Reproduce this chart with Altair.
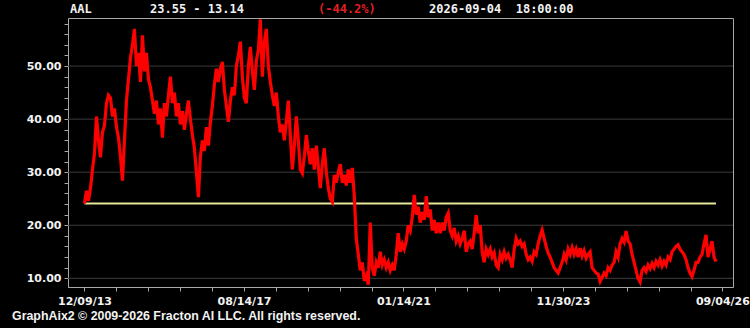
import altair as alt
import pandas as pd

# ---- data ----
prices = [
    24.1, 26.5, 24.6, 27.0, 30.5, 33.5, 40.5, 36.0, 32.8, 37.5,
    38.8, 43.0, 44.5, 44.0, 40.5, 42.0, 38.5, 36.5, 33.0, 28.4,
    36.0, 43.5, 47.5, 51.5, 54.0, 57.0, 50.0, 52.5, 47.0, 55.8,
    49.0, 52.5, 47.5, 46.0, 43.5, 41.0, 43.5, 39.0, 42.0, 36.5,
    43.0, 40.5, 44.5, 48.0, 43.0, 45.0, 40.5, 43.0, 39.0, 41.5,
    38.0, 41.0, 43.5, 40.0, 37.0, 34.5, 30.0, 25.3, 33.0,
    36.0, 34.0, 38.5, 35.0, 39.5, 42.5, 46.5, 49.5, 47.0, 49.5,
    50.8, 45.5, 42.5, 39.5, 43.5, 46.0, 44.5, 50.0, 52.0, 54.6,
    48.0, 44.0, 43.0, 50.0, 53.6, 49.0, 45.5, 51.0, 53.0, 58.8,
    48.0, 54.5, 57.0, 50.0, 47.0, 44.5, 42.5, 45.0, 40.5, 37.5,
    39.0, 36.0, 39.5, 43.5, 37.0, 30.5, 35.0, 40.5, 36.0, 30.5,
    29.8, 33.0, 37.0, 34.0, 31.5, 34.5, 30.5, 35.0, 31.0, 27.0,
    31.5, 34.5, 30.0, 27.0, 25.0, 24.4, 29.5,
    28.0, 30.0, 31.5, 28.0, 29.5, 27.5, 30.5, 28.0, 30.8, 25.5,
    17.5, 14.5, 11.5, 13.0, 9.5, 10.5, 8.8, 20.5, 12.0, 10.5,
    13.0, 12.0, 15.0, 12.5, 13.5, 12.0, 13.0, 11.5, 12.5, 11.5,
    14.5, 18.5, 15.0, 16.5, 15.5, 17.0, 20.0, 19.0, 21.5, 25.7,
    22.0, 23.5, 20.5, 22.5, 21.0, 25.5, 21.5, 23.0, 19.0, 21.0,
    18.5, 20.5, 18.5, 20.5, 19.0, 21.5, 22.3, 19.0, 18.0, 19.5,
    17.0, 18.0, 16.5, 17.5, 19.0, 15.0, 16.5,
    17.0, 15.5, 18.5, 21.9, 18.5, 20.0, 15.0, 13.0, 15.5, 14.5,
    15.5, 14.0, 14.8, 12.5, 12.0, 14.5, 13.5, 15.0, 13.8, 14.5,
    13.5, 12.0, 15.5, 17.5, 16.5, 17.0, 16.0, 16.5, 14.5, 13.5,
    14.0, 13.2, 15.0, 14.5, 16.5, 18.0, 19.1, 17.5, 16.0, 14.8,
    14.0, 13.0, 12.0, 11.5, 11.0, 12.0, 13.0, 14.5, 13.5, 15.5,
    14.5, 15.8, 14.5, 15.5, 14.0, 15.7, 14.2, 15.2, 13.8, 14.5,
    15.0, 12.0, 11.5, 11.0, 10.8, 9.4, 10.2, 11.0,
    10.5, 12.0, 11.5, 12.5, 13.0, 15.0, 14.0, 16.5, 17.5, 16.8,
    18.9, 17.0, 16.5, 14.5, 13.0, 11.5, 10.0, 9.3, 11.5, 12.0,
    11.3, 12.5, 11.8, 12.8, 12.0, 13.2, 12.5, 13.5, 12.3, 13.2,
    12.5, 14.0, 13.5, 15.0, 15.5, 16.0, 16.3, 15.5, 15.0, 14.5,
    13.5, 12.0, 11.0, 10.3, 11.5, 13.0, 13.0, 14.0, 14.5, 16.5,
    18.2, 14.0, 15.5, 17.0, 14.0, 13.14,
]
tick_labels = ["12/09/13", "08/14/17", "01/14/21", "11/30/23", "09/04/26"]
tick_index = [0, 79.8, 159.6, 239.4, 319.2]
minor_per_major = 5
grid_values = [10, 20, 30, 40, 50]
y_minor_values = list(range(10, 59, 2))
y_domain = [8.36, 59.06]
x_domain = [-8.25, 324.5]

header_symbol = "AAL"
header_range = "23.55 - 13.14"
header_change = "(-44.2%)"
header_time = "2026-09-04\u00a0\u00a018:00:00"
footer_text = "GraphAix2 \u00a9 2009-2026 Fracton AI LLC. All rights reserved."

# ---- derived tables ----
n = len(prices)
df = pd.DataFrame({"i": list(range(n)), "price": prices})
base_df = pd.DataFrame({"i": [0], "i2": [n - 1], "price": [prices[0]]})
grid_df = pd.DataFrame({"price": grid_values})

step = (tick_index[1] - tick_index[0]) / minor_per_major
x_tick_values = [round(tick_index[0] + k * step, 3)
                 for k in range(minor_per_major * (len(tick_index) - 1) + 1)]
x_expr = ""
for t, lab in zip(tick_index, tick_labels):
    x_expr += f"abs(datum.value - {t}) < 1 ? '{lab}' : "
x_expr += "''"

AXIS_COLOR = "#a8a8a8"
LABEL_FONT = "DejaVu Sans"

x_axis = alt.Axis(values=x_tick_values, labelExpr=x_expr, title=None, grid=False,
                  tickSize=4, tickColor=AXIS_COLOR, domainColor=AXIS_COLOR,
                  labelFont=LABEL_FONT, labelFontWeight="bold", labelFontSize=11,
                  labelColor="#f2f2f2", labelPadding=4, labelFlush=False,
                  labelOverlap=False)
y_axis = alt.Axis(values=y_minor_values,
                  labelExpr="datum.value % 10 == 0 ? format(datum.value, '.2f') : ''",
                  title=None, grid=False, tickSize=4, tickColor=AXIS_COLOR,
                  domainColor=AXIS_COLOR, labelFont=LABEL_FONT,
                  labelFontWeight="bold", labelFontSize=11, labelColor="#f2f2f2",
                  labelPadding=3, labelFlush=False, labelOverlap=False)

x_scale = alt.Scale(domain=x_domain, nice=False, zero=False)
y_scale = alt.Scale(domain=y_domain, nice=False, zero=False)

grid = alt.Chart(grid_df).mark_rule(color="#3c3c3c", strokeWidth=1).encode(
    y=alt.Y("price:Q", scale=y_scale, axis=y_axis)
)
baseline = alt.Chart(base_df).mark_rule(color="#e6e69a", strokeWidth=2).encode(
    x=alt.X("i:Q", scale=x_scale, axis=x_axis),
    x2="i2:Q",
    y=alt.Y("price:Q", scale=y_scale, axis=y_axis),
)
line = alt.Chart(df).mark_line(color="#ff0000", strokeWidth=3.2, clip=True,
                               strokeJoin="miter").encode(
    x=alt.X("i:Q", scale=x_scale, axis=x_axis),
    y=alt.Y("price:Q", scale=y_scale, axis=y_axis),
)


def label(text, x, y, color="#f2f2f2", font="DejaVu Sans Mono", size=12):
    return alt.Chart(pd.DataFrame({"t": [text]})).mark_text(
        font=font, fontSize=size, fontWeight="bold", color=color,
        align="left", baseline="alphabetic"
    ).encode(text="t:N", x=alt.value(x), y=alt.value(y))


texts = [
    label(header_symbol, 2, -5),
    label(header_range, 82, -5),
    label(header_change, 250, -5, color="#e02020"),
    label(header_time, 361, -5),
    label(footer_text, -56, 302, font="Liberation Sans", size=12.4),
]

chart = alt.layer(grid, baseline, line, *texts).properties(
    width=665, height=269,
    autosize=alt.AutoSizeParams(type="none"),
    padding={"left": 68, "top": 18, "right": 17, "bottom": 41},
    background="black",
).configure_view(stroke=AXIS_COLOR, strokeWidth=1, fill="black")

chart.save("out.html", embed_options={"renderer": "svg", "actions": False})
